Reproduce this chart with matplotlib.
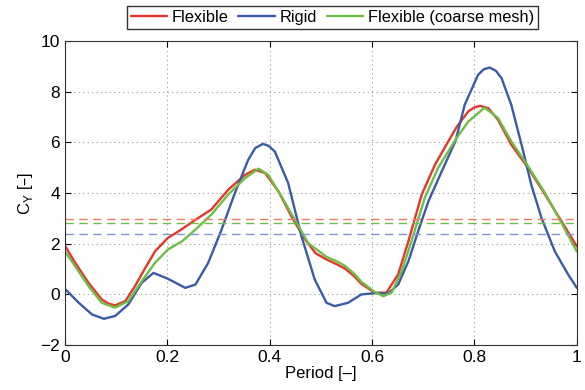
import matplotlib.pyplot as plt

plt.rcParams['font.family'] = ['Liberation Sans', 'DejaVu Sans']

# C_Y over one period (period, value)
t_flexible = [0.0, 0.02, 0.046, 0.072, 0.085, 0.098, 0.118, 0.137, 0.157, 0.176,
              0.201, 0.222, 0.254, 0.286, 0.319, 0.352, 0.371, 0.391, 0.417, 0.443,
              0.469, 0.49, 0.511, 0.53, 0.547, 0.565, 0.579, 0.605, 0.628, 0.651,
              0.671, 0.697, 0.723, 0.745, 0.765, 0.788, 0.800, 0.811, 0.827, 0.846,
              0.872, 0.905, 0.938, 0.970, 1.0]
flexible = [1.92, 1.25, 0.46, -0.20, -0.36, -0.43, -0.26, 0.33, 1.05, 1.70,
            2.23, 2.49, 2.93, 3.35, 4.13, 4.72, 4.92, 4.79, 4.07, 3.06,
            2.17, 1.62, 1.38, 1.20, 1.02, 0.72, 0.42, 0.07, 0.07, 0.79,
            2.10, 3.94, 5.12, 5.90, 6.60, 7.22, 7.38, 7.44, 7.35, 6.89,
            5.91, 4.99, 3.94, 2.89, 1.90]

t_rigid = [0.0, 0.027, 0.053, 0.076, 0.098, 0.124, 0.15, 0.173, 0.201, 0.235,
           0.255, 0.280, 0.306, 0.332, 0.358, 0.372, 0.387, 0.398, 0.410, 0.436,
           0.462, 0.488, 0.511, 0.527, 0.553, 0.579, 0.605, 0.631, 0.651, 0.671,
           0.690, 0.710, 0.736, 0.763, 0.781, 0.807, 0.818, 0.830, 0.842, 0.853,
           0.872, 0.892, 0.911, 0.931, 0.957, 0.983, 1.0]
rigid = [0.22, -0.33, -0.79, -0.96, -0.85, -0.39, 0.46, 0.85, 0.62, 0.26,
         0.39, 1.25, 2.56, 4.00, 5.31, 5.78, 5.94, 5.86, 5.64, 4.40,
         2.30, 0.59, -0.33, -0.46, -0.33, 0.0, 0.05, 0.03, 0.39, 1.31,
         2.49, 3.67, 4.85, 6.05, 7.48, 8.66, 8.88, 8.95, 8.82, 8.53,
         7.48, 5.91, 4.33, 3.02, 1.70, 0.79, 0.26]

t_coarse = [0.0, 0.02, 0.046, 0.072, 0.098, 0.124, 0.15, 0.176, 0.201, 0.229,
            0.255, 0.286, 0.319, 0.352, 0.378, 0.397, 0.423, 0.449, 0.475, 0.511,
            0.530, 0.547, 0.565, 0.579, 0.605, 0.622, 0.638, 0.658, 0.677, 0.703,
            0.729, 0.765, 0.788, 0.82, 0.846, 0.872, 0.905, 0.938, 0.970, 1.0]
coarse = [1.70, 1.11, 0.33, -0.33, -0.52, -0.26, 0.52, 1.25, 1.77, 2.10,
          2.56, 3.15, 3.94, 4.59, 4.96, 4.72, 3.87, 2.95, 2.03, 1.48,
          1.32, 1.13, 0.82, 0.50, 0.10, -0.07, 0.07, 0.92, 2.10, 3.81,
          4.99, 6.17, 6.82, 7.37, 6.96, 6.04, 5.05, 4.00, 2.82, 1.70]

# mean values (dashed lines)
mean_flexible = 2.96
mean_rigid = 2.37
mean_coarse = 2.82

red = '#e8352a'
blue = '#3a5ba8'
green = '#6cbf45'

fig = plt.figure(figsize=(5.85, 3.9), dpi=100)
ax = fig.add_axes([0.111, 0.115, 0.875, 0.78])

kw = dict(lw=1.7, solid_joinstyle='round', solid_capstyle='round')
ax.plot(t_flexible, flexible, color=red, label='Flexible', **kw)
ax.plot(t_rigid, rigid, color=blue, label='Rigid', **kw)
ax.plot(t_coarse, coarse, color=green, label='Flexible (coarse mesh)', **kw)

ax.axhline(mean_flexible, color='#f07868', lw=1.0, ls=(0, (6, 4)))
ax.axhline(mean_coarse, color=green, lw=1.0, ls=(0, (6, 4)))
ax.axhline(mean_rigid, color='#7f96cc', lw=1.0, ls=(0, (6, 4)))

ax.set_xlim(0, 1)
ax.set_ylim(-2, 10)
ax.set_xticks([0, 0.2, 0.4, 0.6, 0.8, 1])
ax.set_xticklabels(['0', '0.2', '0.4', '0.6', '0.8', '1'])
ax.set_yticks([-2, 0, 2, 4, 6, 8, 10])
ax.set_yticklabels(['\u22122', '0', '2', '4', '6', '8', '10'])
ax.grid(True, ls=(0, (1, 3)), color='#999999', lw=0.8)
ax.tick_params(direction='in', top=True, right=True, labelsize=12.5, length=4)
for s in ax.spines.values():
    s.set_color('#333333')

ax.set_xlabel('Period [\u2013]', fontsize=12, labelpad=1)
ax.set_ylabel('C$_\\mathregular{Y}$ [\u2013]', fontsize=12, labelpad=4)

leg = fig.legend(loc='center', bbox_to_anchor=(0.568, 0.955), ncol=3,
                 fontsize=11.8, frameon=True, fancybox=False, handlelength=2.2,
                 handletextpad=0.3, columnspacing=0.6, borderpad=0.25)
leg.get_frame().set_edgecolor('black')
leg.get_frame().set_linewidth(1.0)

fig.savefig('out.png', dpi=100)
